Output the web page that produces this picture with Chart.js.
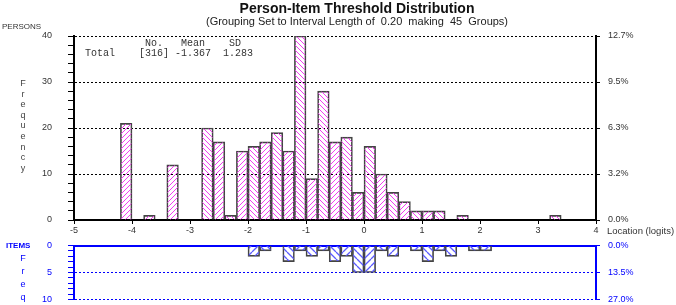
<!DOCTYPE html>
<html>
<head>
<meta charset="utf-8">
<script src="https://cdn.jsdelivr.net/npm/chart.js@4.4.1/dist/chart.umd.min.js"></script>
<style>
    html, body { margin: 0; padding: 0; background: #fff; }
    #wrap { position: relative; width: 676px; height: 305px; overflow: hidden;
            font-family: 'Liberation Sans', Arial, sans-serif; color: #333; }
    #wrap canvas { position: absolute; left: 0; }
    .lbl { position: absolute; white-space: pre; line-height: 1; }
    .c { transform: translate(-50%, -50%); }
    .l { transform: translateY(-50%); }
    .mono { font-family: 'Liberation Mono', 'Courier New', monospace; font-size: 10px; color: #333; }
    .blue { color: #0000ff; }
</style>
</head>
<body>
<div id="wrap">
    <canvas id="person-chart" width="676" height="242" style="top:0"></canvas>
    <canvas id="item-chart" width="676" height="97" style="top:224px"></canvas>

    <div class="lbl c" style="left:357px;top:8px;font-size:14px;font-weight:bold;color:#111">Person-Item Threshold Distribution</div>
    <div class="lbl c" style="left:357px;top:21px;font-size:11px;color:#222">(Grouping Set to Interval Length of  0.20  making  45  Groups)</div>
    <div class="lbl l" style="left:2px;top:27px;font-size:8px;color:#333">PERSONS</div>

    <div class="lbl l mono" style="left:85px;top:44px">          No.   Mean    SD</div>
    <div class="lbl l mono" style="left:85px;top:54px">Total    [316] -1.367  1.283</div>

    <div class="lbl l" style="left:607px;top:231px;font-size:9.5px;color:#333">Location (logits)</div>

    <div id="freq-top" class="lbl" style="left:20px;top:78px;font-size:9px;line-height:10.6px;color:#444;text-align:center;width:6px"></div>

    <div class="lbl l blue" style="left:6px;top:246px;font-size:8px;font-weight:bold">ITEMS</div>
    <div id="freq-bottom" class="lbl blue" style="left:20px;top:252px;font-size:9px;line-height:13px;text-align:center;width:6px"></div>
</div>

<script>
/* global Chart:false */

// 45 groups of width 0.20 from -5 to 4 (lower edge of each group)
var groupLabels = [
    '-5.0', '-4.8', '-4.6', '-4.4', '-4.2', '-4.0', '-3.8', '-3.6', '-3.4',
    '-3.2', '-3.0', '-2.8', '-2.6', '-2.4', '-2.2', '-2.0', '-1.8', '-1.6',
    '-1.4', '-1.2', '-1.0', '-0.8', '-0.6', '-0.4', '-0.2', '0.0', '0.2',
    '0.4', '0.6', '0.8', '1.0', '1.2', '1.4', '1.6', '1.8', '2.0',
    '2.2', '2.4', '2.6', '2.8', '3.0', '3.2', '3.4', '3.6', '3.8',
];

var personCounts = [
    0, 0, 0, 0, 21, 0, 1, 0, 12,
    0, 0, 20, 17, 1, 15, 16, 17, 19,
    15, 40, 9, 28, 17, 18, 6, 16, 10,
    6, 4, 2, 2, 2, 0, 1, 0, 0,
    0, 0, 0, 0, 0, 1, 0, 0, 0,
];

var itemCounts = [
    0, 0, 0, 0, 0, 0, 0, 0, 0,
    0, 0, 0, 0, 0, 0, 2, 1, 0,
    3, 1, 2, 1, 3, 2, 5, 5, 1,
    2, 0, 1, 3, 1, 2, 0, 1, 1,
    0, 0, 0, 0, 0, 0, 0, 0, 0,
];

var locationMin = -5;
var locationMax = 4;
var personMax = 40;
var itemMax = 10;

var personTotal = personCounts.reduce((a, b) => a + b, 0);
var itemTotal = itemCounts.reduce((a, b) => a + b, 0);

document.getElementById('freq-top').textContent = 'Frequency'.split('').join('\n');
document.getElementById('freq-bottom').textContent = 'Freq'.split('').join('\n');

Chart.defaults.font.family = "'Liberation Sans', Arial, sans-serif";
Chart.defaults.font.size = 9;
Chart.defaults.color = '#333';

function makeHatch(color, size, lineWidth, back) {
    var c = document.createElement('canvas');
    c.width = size;
    c.height = size;
    var ctx = c.getContext('2d');
    ctx.strokeStyle = color;
    ctx.lineWidth = lineWidth;
    ctx.beginPath();
    for (var k = -1; k <= 1; k++) {
        if (back) {
            ctx.moveTo(k * size, 0);
            ctx.lineTo(k * size + size, size);
        } else {
            ctx.moveTo(k * size, size);
            ctx.lineTo(k * size + size, 0);
        }
    }
    ctx.stroke();
    return ctx.createPattern(c, 'repeat');
}

var pinkBack = makeHatch('#f040f0', 5, 1, true);
var pinkFwd = makeHatch('#f040f0', 5, 1, false);
var blueBack = makeHatch('#5a5aff', 7, 1.3, true);
var blueFwd = makeHatch('#5a5aff', 7, 1.3, false);

var personFill = groupLabels.map((l, i) => (i % 2 ? pinkBack : pinkFwd));
var itemFill = groupLabels.map((l, i) => (i % 2 ? blueFwd : blueBack));

function nullZero(arr) {
    return arr.map((v) => (v === 0 ? null : v));
}

var personChart = new Chart(document.getElementById('person-chart'), {
    type: 'bar',
    data: {
        labels: groupLabels,
        datasets: [
            {
                data: nullZero(personCounts),
                backgroundColor: personFill,
                borderColor: '#444',
                borderWidth: 1,
                barPercentage: 1,
                categoryPercentage: 1,
                xAxisID: 'x',
                yAxisID: 'y',
            },
        ],
    },
    options: {
        responsive: false,
        animation: false,
        events: [],
        layout: { padding: { top: 36, left: 0, right: 0, bottom: 0 } },
        scales: {
            x: {
                type: 'category',
                display: false,
                offset: true,
            },
            xl: {
                type: 'linear',
                position: 'bottom',
                min: locationMin,
                max: locationMax,
                offset: false,
                afterFit: (s) => { s.height = 22; },
                ticks: { stepSize: 1, padding: 1, color: '#333' },
                grid: { offset: false, drawOnChartArea: false, tickLength: 4, color: '#000', tickColor: '#000' },
                border: { color: '#000', width: 2 },
            },
            y: {
                position: 'left',
                min: 0,
                max: personMax,
                afterFit: (s) => { s.width = 74; },
                ticks: {
                    stepSize: 2,
                    autoSkip: false,
                    padding: 16,
                    color: '#333',
                    callback: (v) => (v % 10 === 0 ? v : ''),
                },
                grid: {
                    color: (c) => (c.tick && c.tick.value !== 0 && c.tick.value % 10 === 0 ? '#000' : 'rgba(0,0,0,0)'),
                    tickColor: '#000',
                    tickLength: 6,
                    tickBorderDash: [],
                },
                border: { color: '#000', width: 2, dash: [2, 2] },
            },
            y2: {
                position: 'right',
                min: 0,
                max: personMax,
                afterFit: (s) => { s.width = 80; },
                ticks: {
                    stepSize: 10,
                    padding: 8,
                    color: '#333',
                    callback: (v) => (v / personTotal * 100).toFixed(1) + '%',
                },
                grid: { drawOnChartArea: false, tickLength: 4, color: '#000' },
                border: { color: '#000', width: 2 },
            },
        },
        plugins: {
            legend: { display: false },
            tooltip: { enabled: false },
        },
    },
});

var itemChart = new Chart(document.getElementById('item-chart'), {
    type: 'bar',
    data: {
        labels: groupLabels,
        datasets: [
            {
                data: nullZero(itemCounts),
                backgroundColor: itemFill,
                borderColor: '#444',
                borderWidth: 1,
                barPercentage: 1,
                categoryPercentage: 1,
                xAxisID: 'x',
                yAxisID: 'y',
            },
        ],
    },
    options: {
        responsive: false,
        animation: false,
        events: [],
        layout: { padding: { top: 21.5, left: 0, right: 0, bottom: 21.5 } },
        scales: {
            x: {
                type: 'category',
                position: 'top',
                offset: true,
                afterFit: (s) => { s.height = 0; },
                ticks: { display: false },
                grid: { display: false },
                border: { color: '#0000ff', width: 2 },
            },
            y: {
                position: 'left',
                reverse: true,
                min: 0,
                max: itemMax,
                afterFit: (s) => { s.width = 74; },
                ticks: {
                    stepSize: 1,
                    autoSkip: false,
                    padding: 16,
                    color: '#0000ff',
                    callback: (v) => (v % 5 === 0 ? v : ''),
                },
                grid: {
                    color: (c) => (c.tick && c.tick.value !== 0 && c.tick.value % 5 === 0 ? '#0000ff' : 'rgba(0,0,0,0)'),
                    tickColor: '#0000ff',
                    tickLength: 6,
                    tickBorderDash: [],
                },
                border: { color: '#0000ff', width: 2, dash: [2, 2] },
            },
            y2: {
                position: 'right',
                reverse: true,
                min: 0,
                max: itemMax,
                afterFit: (s) => { s.width = 80; },
                ticks: {
                    stepSize: 5,
                    padding: 8,
                    color: '#0000ff',
                    callback: (v) => (v / itemTotal * 100).toFixed(1) + '%',
                },
                grid: { drawOnChartArea: false, tickLength: 4, color: '#0000ff' },
                border: { color: '#0000ff', width: 2 },
            },
        },
        plugins: {
            legend: { display: false },
            tooltip: { enabled: false },
        },
    },
});
</script>
</body>
</html>
